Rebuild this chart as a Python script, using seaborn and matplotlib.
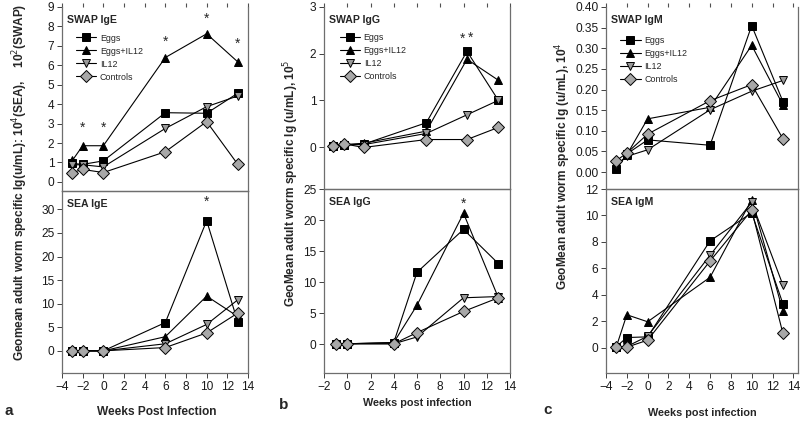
import matplotlib
matplotlib.use("Agg")
import matplotlib.pyplot as plt
from matplotlib.lines import Line2D
import seaborn as sns
import pandas as pd

sns.set_theme(style="white")
plt.rcParams['font.family'] = ['Liberation Sans', 'DejaVu Sans']

groups = ["Eggs", "Eggs+IL12", "IL12", "Controls"]

# Panel a: IgE
weeks_a = [-3, -2, 0, 6, 10, 13]
swap_ige = {
    "Eggs":      [0.95, 0.90, 1.08, 3.56, 3.53, 4.56],
    "Eggs+IL12": [1.10, 1.86, 1.86, 6.40, 7.62, 6.18],
    "IL12":      [0.88, 0.88, 0.77, 2.75, 3.87, 4.42],
    "Controls":  [0.48, 0.64, 0.48, 1.55, 3.10, 0.91],
}
sea_ige = {
    "Eggs":      [0.0, 0.0, 0.0, 6.0, 27.6, 6.2],
    "Eggs+IL12": [0.0, 0.0, 0.0, 3.0, 11.6, 7.3],
    "IL12":      [0.0, 0.0, 0.0, 1.5, 5.6, 10.8],
    "Controls":  [0.0, 0.0, 0.0, 0.7, 3.8, 8.0],
}
# Panel b: IgG
weeks_b_swap = [-1.2, -0.3, 1.4, 6.8, 10.3, 13]
weeks_b_sea = [-1, 0, 4, 6, 10, 13]
swap_igg = {
    "Eggs":      [0.03, 0.05, 0.06, 0.52, 2.05, 1.00],
    "Eggs+IL12": [0.03, 0.05, 0.08, 0.34, 1.88, 1.43],
    "IL12":      [0.02, 0.05, 0.05, 0.29, 0.69, 1.00],
    "Controls":  [0.02, 0.07, -0.01, 0.16, 0.16, 0.42],
}
sea_igg = {
    "Eggs":      [0.0, 0.1, 0.3, 11.6, 18.5, 13.0],
    "Eggs+IL12": [0.0, 0.1, 0.3, 6.3, 21.1, 7.5],
    "IL12":      [0.0, 0.1, 0.1, 1.2, 7.5, 7.7],
    "Controls":  [0.0, 0.1, 0.1, 1.9, 5.3, 7.5],
}
# Panel c: IgM
weeks_c = [-3, -2, 0, 6, 10, 13]
swap_igm = {
    "Eggs":      [0.007, 0.044, 0.078, 0.065, 0.355, 0.171],
    "Eggs+IL12": [0.010, 0.042, 0.129, 0.157, 0.307, 0.163],
    "IL12":      [0.018, 0.038, 0.054, 0.151, 0.196, 0.222],
    "Controls":  [0.028, 0.046, 0.092, 0.173, 0.212, 0.081],
}
sea_igm = {
    "Eggs":      [0.10, 0.78, 0.83, 8.08, 10.2, 3.33],
    "Eggs+IL12": [0.10, 2.50, 1.97, 5.33, 11.2, 2.78],
    "IL12":      [0.05, 0.10, 0.88, 7.00, 11.0, 4.75],
    "Controls":  [0.05, 0.05, 0.58, 6.56, 10.4, 1.09],
}

# significance markers (x, y)
stars_swap_ige = [(-2, 2.8), (0, 2.8), (6, 7.2), (10, 8.4), (13, 7.1)]
stars_sea_ige = [(10, 31.6)]
stars_swap_igg = [(9.9, 2.32), (10.6, 2.34)]
stars_sea_igg = [(10, 22.6)]

style = {
    "Eggs":      dict(marker="s", mfc="black", ms=5.4),
    "Eggs+IL12": dict(marker="^", mfc="black", ms=6.4),
    "IL12":      dict(marker="v", mfc="#9a9a9a", ms=6.4),
    "Controls":  dict(marker="D", mfc="#a8a8a8", ms=5.8),
}

W, H = 800, 423
fig = plt.figure(figsize=(W / 100, H / 100), dpi=100)


def add_ax(x0, x1, y0, y1):
    return fig.add_axes([x0 / W, (H - y1) / H, (x1 - x0) / W, (y1 - y0) / H])


def draw(ax, weeks, data):
    for g in groups:
        df = pd.DataFrame({"week": weeks, "val": data[g]})
        st = style[g]
        sns.lineplot(data=df, x="week", y="val", ax=ax, color="black", lw=0.8,
                     marker=st["marker"], markersize=st["ms"],
                     markerfacecolor=st["mfc"], markeredgecolor="black",
                     markeredgewidth=0.7, zorder=3, legend=False)
    ax.set_xlabel("")
    ax.set_ylabel("")


def frame(ax, top_panel, xlim, xticks, ylim, yticks, yfmt=None):
    ax.set_xlim(*xlim)
    ax.set_ylim(*ylim)
    ax.set_xticks(xticks)
    ax.set_yticks(yticks)
    if yfmt:
        ax.set_yticklabels([yfmt.format(v) for v in yticks])
    for s in ["left", "right", "bottom", "top"]:
        ax.spines[s].set_color("#6e6e6e")
        ax.spines[s].set_linewidth(0.9)
    ax.yaxis.set_ticks_position("left")
    ax.tick_params(axis="y", direction="out", length=3.5, width=0.7,
                   color="#404040", labelsize=8.6, labelcolor="#1a1a1a", pad=2)
    if top_panel:
        ax.spines["top"].set_visible(False)
        ax.set_facecolor("none")
        ax.xaxis.set_ticks_position("top")
        ax.tick_params(axis="x", which="major", top=True, bottom=False,
                       direction="out", length=3, width=0.8,
                       color="#505050", labeltop=False, labelbottom=False)
    else:
        ax.spines["top"].set_visible(True)
        ax.xaxis.set_ticks_position("bottom")
        ax.tick_params(axis="x", direction="out", length=3.5, width=0.7,
                       color="#404040", labelsize=8.6, labelcolor="#1a1a1a", pad=2)


def title(ax, text):
    ax.text(0.025, 0.955, text, transform=ax.transAxes, ha="left", va="top",
            fontsize=7.6, fontweight="bold")


def legend(ax, anchor):
    handles = [Line2D([], [], color="black", lw=0.8, marker=style[g]["marker"],
                      markersize=style[g]["ms"], markerfacecolor=style[g]["mfc"],
                      markeredgecolor="black", markeredgewidth=0.7) for g in groups]
    ax.legend(handles, groups, loc="upper left", bbox_to_anchor=anchor,
              frameon=False, fontsize=6.4, handlelength=2.3, handletextpad=0.4,
              labelspacing=0.45, borderaxespad=0)


def stars(ax, pts, size=10):
    for x, y in pts:
        ax.text(x, y, "*", ha="center", va="center", fontsize=size)


# ---- panel a ----
ax = add_ax(62, 248, 191, 373)
draw(ax, weeks_a, sea_ige)
frame(ax, False, (-4, 14), range(-4, 15, 2), (-4.7, 33.9), range(0, 31, 5))
title(ax, "SEA IgE")
stars(ax, stars_sea_ige)

ax = add_ax(62, 248, 7, 191)
draw(ax, weeks_a, swap_ige)
frame(ax, True, (-4, 14), range(-4, 15, 2), (-0.47, 9), range(0, 10))
title(ax, "SWAP IgE")
legend(ax, (0.055, 0.875))
stars(ax, stars_swap_ige)

# ---- panel b ----
ax = add_ax(324, 510, 189, 373)
draw(ax, weeks_b_sea, sea_igg)
frame(ax, False, (-2, 14), range(-2, 15, 2), (-4.6, 25), range(0, 26, 5))
title(ax, "SEA IgG")
stars(ax, stars_sea_igg)

ax = add_ax(324, 510, 7, 189)
draw(ax, weeks_b_swap, swap_igg)
frame(ax, True, (-2, 14), range(-2, 15, 2), (-0.9, 3), range(0, 4))
title(ax, "SWAP IgG")
legend(ax, (0.065, 0.875))
stars(ax, stars_swap_igg)

# ---- panel c ----
ax = add_ax(606, 798, 189, 373)
draw(ax, weeks_c, sea_igm)
frame(ax, False, (-4, 14.45), range(-4, 15, 2), (-1.9, 12), range(0, 13, 2))
title(ax, "SEA IgM")

ax = add_ax(606, 798, 7, 189)
draw(ax, weeks_c, swap_igm)
frame(ax, True, (-4, 14.45), range(-4, 15, 2), (-0.041, 0.40),
      [i * 0.05 for i in range(9)], yfmt="{:.2f}")
title(ax, "SWAP IgM")
legend(ax, (0.055, 0.86))

# ---- labels ----
fig.text(20 / W, 1 - 182 / H,
         "Geomean adult worm specific Ig(u/mL): 10$^4$(SEA),    10$^2$(SWAP)",
         rotation=90, ha="center", va="center", fontsize=8.6, fontweight="bold")
fig.text(291 / W, 1 - 183 / H, "GeoMean adult worm specific Ig (u/mL), 10$^5$",
         rotation=90, ha="center", va="center", fontsize=8.6, fontweight="bold")
fig.text(563 / W, 1 - 166 / H, "GeoMean adult worm specific Ig (u/mL), 10$^4$",
         rotation=90, ha="center", va="center", fontsize=8.6, fontweight="bold")

fig.text(157 / W, 1 - 412 / H, "Weeks Post Infection", ha="center", va="center",
         fontsize=8.6, fontweight="bold")
fig.text(417 / W, 1 - 403 / H, "Weeks post infection", ha="center", va="center",
         fontsize=7.8, fontweight="bold")
fig.text(702 / W, 1 - 413 / H, "Weeks post infection", ha="center", va="center",
         fontsize=7.8, fontweight="bold")

fig.text(9 / W, 1 - 411 / H, "a", ha="center", va="center", fontsize=11, fontweight="bold")
fig.text(284 / W, 1 - 405 / H, "b", ha="center", va="center", fontsize=11, fontweight="bold")
fig.text(548 / W, 1 - 410 / H, "c", ha="center", va="center", fontsize=11, fontweight="bold")

fig.savefig("out.png", dpi=100)
